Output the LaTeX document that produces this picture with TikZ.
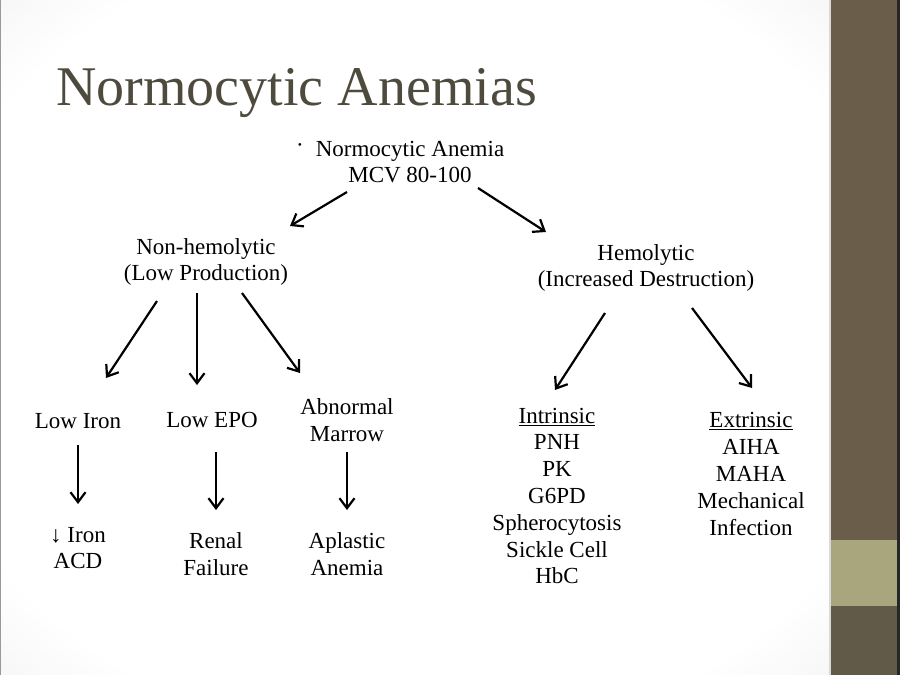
\documentclass[tikz,border=0pt]{standalone}
\usepackage{fontspec}
\setmainfont{Liberation Serif}
\usepackage{xcolor}
\usepackage{tikz}
\usetikzlibrary{shapes,arrows,arrows.meta,positioning}

\definecolor{barbrown}{HTML}{6A5D4A}
\definecolor{barlow}{HTML}{625A48}
\definecolor{bartan}{HTML}{A9A57C}
\definecolor{titlegray}{HTML}{4E4B3E}

\pgfdeclareradialshading{vignette}{\pgfpoint{0bp}{0bp}}{%
  color(0bp)=(white); color(30bp)=(white);
  color(50bp)=(black!12); color(72bp)=(black!20)}

\tikzset{
    item/.style={
        inner sep=0pt,
        align=center,
        font=\fontsize{23}{26.8}\selectfont
    },
    arr/.style={
        -{Straight Barb[length=10pt,width=15pt,line width=2.2pt]},
        line width=2.2pt
    }
}

\begin{document}
\begin{tikzpicture}[x=1pt,y=-1pt]
                \useasboundingbox (0,0) rectangle (900,675);

                % slide background and side bar
                \shade[shading=vignette] (0,0) rectangle (831,675);
                \fill[black!40] (0,0) rectangle (1.2,675);
                \fill[white!85!black] (829,0) rectangle (831,675);
                \fill[barbrown] (831,0) rectangle (897,540);
                \fill[bartan] (831,540) rectangle (897,606);
                \fill[barlow] (831,606) rectangle (897,675);
                \fill[black!85] (897,0) rectangle (900,675);

                \node[
                    anchor=base west,
                    inner sep=0pt,
                    text=titlegray,
                    font=\fontsize{56}{60}\selectfont
                    ] (title) at (56,105) {Normocytic Anemias};

                % top level
                \node[item] (top) at (410,162) {Normocytic Anemia\\MCV 80-100};
                \node[item] (dot) at (300,148) {·};

                \node[item] (nh) at (206,262) {Non-hemolytic\\(Low Production)};
                \node[item] (hem) at (646,268) {Hemolytic\\(Increased Destruction)};

                % non-hemolytic branch
                \node[item] (liron) at (78,421) {Low Iron};
                \node[item] (lepo) at (212,420) {Low EPO};
                \node[item] (abm) at (347,420) {Abnormal\\Marrow};

                \node[item] (iron) at (78,548) {↓ Iron\\ACD};
                \node[item] (renal) at (216,554) {Renal\\Failure};
                \node[item] (aplastic) at (347,554) {Aplastic\\Anemia};

                % hemolytic branch
                \node[item] (intr) at (557,496) {\underline{Intrinsic}\\PNH\\PK\\G6PD\\Spherocytosis\\Sickle Cell\\HbC};
                \node[item] (extr) at (751,474) {\underline{Extrinsic}\\AIHA\\MAHA\\Mechanical\\Infection};

                % arrows
                \draw[arr] ([shift={(-63,30)}]top.center) to ([shift={(84,-36)}]nh.center);
                \draw[arr] ([shift={(68,26)}]top.center) to ([shift={(-100,-36)}]hem.center);

                \draw[arr] ([shift={(-49,39)}]nh.center) to ([shift={(28,-43)}]liron.center);
                \draw[arr] ([shift={(-9,31)}]nh.center) to ([shift={(-15,-35)}]lepo.center);
                \draw[arr] ([shift={(36,31)}]nh.center) to ([shift={(-47,-47)}]abm.center);

                \draw[arr] ([shift={(-41,45)}]hem.center) to ([shift={(-2,-106)}]intr.center);
                \draw[arr] ([shift={(46,40)}]hem.center) to ([shift={(1,-86)}]extr.center);

                \draw[arr] ([shift={(0,24)}]liron.center) to ([shift={(0,-44)}]iron.center);
                \draw[arr] ([shift={(4,32)}]lepo.center) to ([shift={(0,-44)}]renal.center);
                \draw[arr] ([shift={(0,32)}]abm.center) to ([shift={(0,-44)}]aplastic.center);

\end{tikzpicture}
\end{document}
